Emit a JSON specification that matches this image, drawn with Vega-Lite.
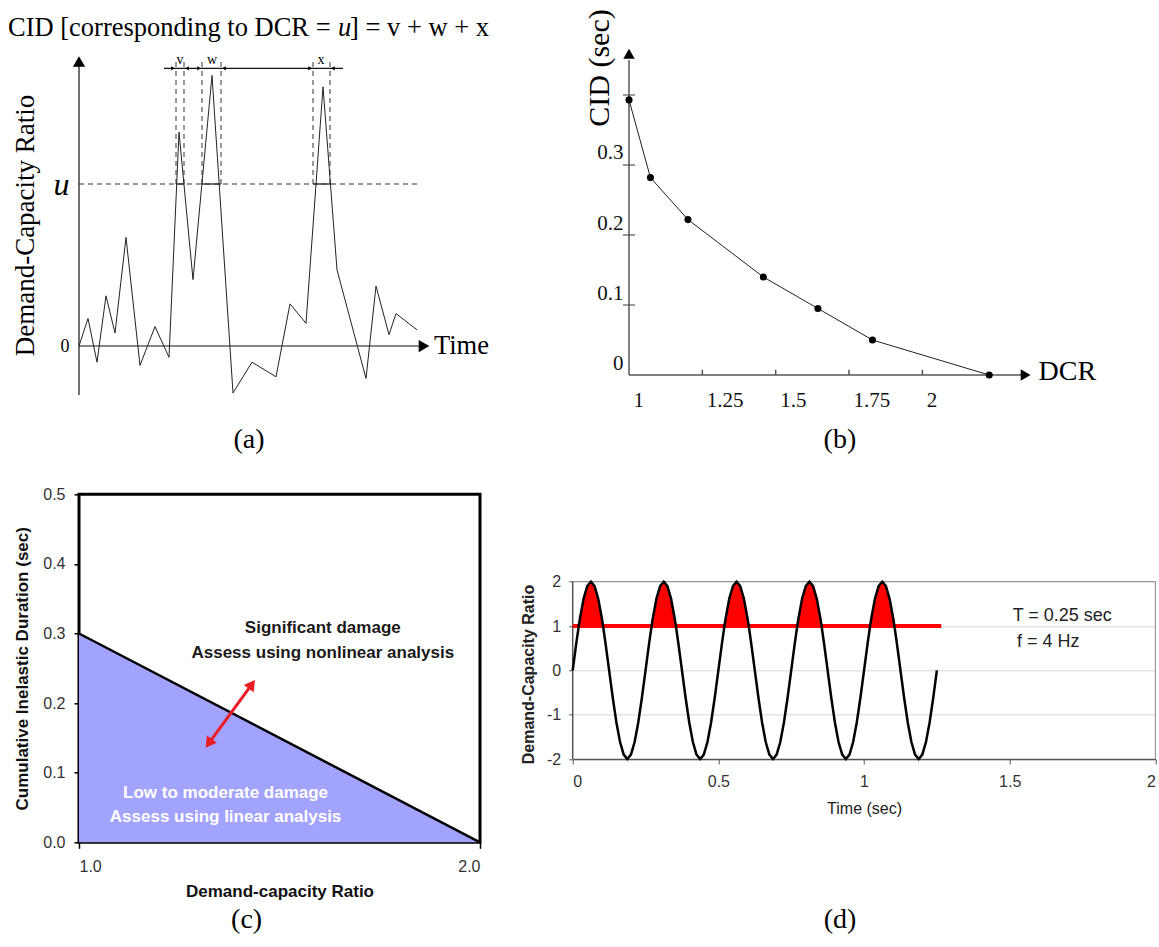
{
  "$schema": "https://vega.github.io/schema/vega-lite/v6.json",
  "padding": {"left": 8, "top": 0, "right": 0, "bottom": 0},
  "background": "white",
  "config": {"view": {"stroke": null}, "font": "Liberation Sans", "axis": {"labelFont": "Liberation Sans", "titleFont": "Liberation Sans"}},
  "bounds": "flush",
  "align": "each",
  "columns": 2,
  "spacing": {"row": 94.3, "column": 92.7},
  "datasets": {
    "sine": [
      {"x":0,"y":0},{"x":0.0125,"y":0.618},{"x":0.0208,"y":1},{"x":0.025,"y":1.176},{"x":0.0375,"y":1.618},{"x":0.05,"y":1.902},{"x":0.0625,"y":2},{"x":0.075,"y":1.902},{"x":0.0875,"y":1.618},{"x":0.1,"y":1.176},{"x":0.1042,"y":1},{"x":0.1125,"y":0.618},{"x":0.125,"y":0},{"x":0.1375,"y":-0.618},{"x":0.15,"y":-1.176},{"x":0.1625,"y":-1.618},{"x":0.175,"y":-1.902},{"x":0.1875,"y":-2},{"x":0.2,"y":-1.902},{"x":0.2125,"y":-1.618},{"x":0.225,"y":-1.176},{"x":0.2375,"y":-0.618},
      {"x":0.25,"y":0},{"x":0.2625,"y":0.618},{"x":0.2708,"y":1},{"x":0.275,"y":1.176},{"x":0.2875,"y":1.618},{"x":0.3,"y":1.902},{"x":0.3125,"y":2},{"x":0.325,"y":1.902},{"x":0.3375,"y":1.618},{"x":0.35,"y":1.176},{"x":0.3542,"y":1},{"x":0.3625,"y":0.618},{"x":0.375,"y":0},{"x":0.3875,"y":-0.618},{"x":0.4,"y":-1.176},{"x":0.4125,"y":-1.618},{"x":0.425,"y":-1.902},{"x":0.4375,"y":-2},{"x":0.45,"y":-1.902},{"x":0.4625,"y":-1.618},{"x":0.475,"y":-1.176},{"x":0.4875,"y":-0.618},
      {"x":0.5,"y":0},{"x":0.5125,"y":0.618},{"x":0.5208,"y":1},{"x":0.525,"y":1.176},{"x":0.5375,"y":1.618},{"x":0.55,"y":1.902},{"x":0.5625,"y":2},{"x":0.575,"y":1.902},{"x":0.5875,"y":1.618},{"x":0.6,"y":1.176},{"x":0.6042,"y":1},{"x":0.6125,"y":0.618},{"x":0.625,"y":0},{"x":0.6375,"y":-0.618},{"x":0.65,"y":-1.176},{"x":0.6625,"y":-1.618},{"x":0.675,"y":-1.902},{"x":0.6875,"y":-2},{"x":0.7,"y":-1.902},{"x":0.7125,"y":-1.618},{"x":0.725,"y":-1.176},{"x":0.7375,"y":-0.618},
      {"x":0.75,"y":0},{"x":0.7625,"y":0.618},{"x":0.7708,"y":1},{"x":0.775,"y":1.176},{"x":0.7875,"y":1.618},{"x":0.8,"y":1.902},{"x":0.8125,"y":2},{"x":0.825,"y":1.902},{"x":0.8375,"y":1.618},{"x":0.85,"y":1.176},{"x":0.8542,"y":1},{"x":0.8625,"y":0.618},{"x":0.875,"y":0},{"x":0.8875,"y":-0.618},{"x":0.9,"y":-1.176},{"x":0.9125,"y":-1.618},{"x":0.925,"y":-1.902},{"x":0.9375,"y":-2},{"x":0.95,"y":-1.902},{"x":0.9625,"y":-1.618},{"x":0.975,"y":-1.176},{"x":0.9875,"y":-0.618},
      {"x":1,"y":0},{"x":1.0125,"y":0.618},{"x":1.0208,"y":1},{"x":1.025,"y":1.176},{"x":1.0375,"y":1.618},{"x":1.05,"y":1.902},{"x":1.0625,"y":2},{"x":1.075,"y":1.902},{"x":1.0875,"y":1.618},{"x":1.1,"y":1.176},{"x":1.1042,"y":1},{"x":1.1125,"y":0.618},{"x":1.125,"y":0},{"x":1.1375,"y":-0.618},{"x":1.15,"y":-1.176},{"x":1.1625,"y":-1.618},{"x":1.175,"y":-1.902},{"x":1.1875,"y":-2},{"x":1.2,"y":-1.902},{"x":1.2125,"y":-1.618},{"x":1.225,"y":-1.176},{"x":1.2375,"y":-0.618},
      {"x":1.25,"y":0}
    ]
  },
  "concat": [
    {
      "width": 401,
      "height": 400,
      "encoding": {
        "x": {"field": "x", "type": "quantitative", "scale": {"domain": [0, 401], "nice": false, "zero": false}, "axis": null},
        "y": {"field": "y", "type": "quantitative", "scale": {"domain": [-0.3333, 2.1358], "nice": false, "zero": false},
          "axis": {"values": [0, 1], "domain": false, "ticks": false, "grid": false,
            "labelExpr": "datum.value == 1 ? 'u' : '0'",
            "labelFont": "Liberation Serif",
            "labelFontSize": {"condition": {"test": "datum.value == 1", "value": 32}, "value": 18},
            "labelFontStyle": {"condition": {"test": "datum.value == 1", "value": "italic"}, "value": "normal"},
            "labelColor": "#000", "labelPadding": 10,
            "title": "Demand-Capacity Ratio", "titleFont": "Liberation Serif", "titleFontSize": 27, "titleFontWeight": "normal", "titleColor": "#000",
            "titleX": -54, "titleY": 225, "titleBaseline": "middle"}}
      },
      "layer": [
        {
          "data": {"values": [
            {"x": 0, "x2": 0, "y": -0.302, "y2": 1.74},
            {"x": 0, "x2": 340, "y": 0, "y2": 0},
            {"x": 97, "x2": 105, "y": 1, "y2": 1},
            {"x": 123, "x2": 142, "y": 1, "y2": 1},
            {"x": 234, "x2": 251, "y": 1, "y2": 1},
            {"x": 85, "x2": 264, "y": 1.714, "y2": 1.714}
          ]},
          "mark": {"type": "rule", "color": "#111", "strokeWidth": 1.2},
          "encoding": {"x2": {"field": "x2"}, "y2": {"field": "y2"}}
        },
        {
          "data": {"values": [
            {"x": 0, "x2": 342, "y": 1, "y2": 1},
            {"x": 97, "x2": 97, "y": 1, "y2": 1.77},
            {"x": 105, "x2": 105, "y": 1, "y2": 1.77},
            {"x": 123, "x2": 123, "y": 1, "y2": 1.77},
            {"x": 142, "x2": 142, "y": 1, "y2": 1.77},
            {"x": 234, "x2": 234, "y": 1, "y2": 1.77},
            {"x": 251, "x2": 251, "y": 1, "y2": 1.77}
          ]},
          "mark": {"type": "rule", "color": "#333", "strokeWidth": 1, "strokeDash": [5, 4]},
          "encoding": {"x2": {"field": "x2"}, "y2": {"field": "y2"}}
        },
        {
          "data": {"values": [
            {"x": 0, "y": 0}, {"x": 9, "y": 0.17}, {"x": 18, "y": -0.10}, {"x": 27, "y": 0.31}, {"x": 36, "y": 0.08},
            {"x": 47, "y": 0.67}, {"x": 61, "y": -0.12}, {"x": 76, "y": 0.12}, {"x": 90, "y": -0.07}, {"x": 100, "y": 1.32},
            {"x": 114, "y": 0.41}, {"x": 133, "y": 1.67}, {"x": 154, "y": -0.29}, {"x": 173, "y": -0.10}, {"x": 197, "y": -0.19},
            {"x": 211, "y": 0.26}, {"x": 227, "y": 0.14}, {"x": 244, "y": 1.60}, {"x": 258, "y": 0.47}, {"x": 287, "y": -0.20},
            {"x": 297, "y": 0.37}, {"x": 310, "y": 0.07}, {"x": 317, "y": 0.20}, {"x": 338, "y": 0.10}
          ]},
          "mark": {"type": "line", "color": "#222", "strokeWidth": 1}
        },
        {
          "data": {"values": [{"x": 0, "y": 1.756}]},
          "mark": {"type": "point", "shape": "triangle-up", "filled": true, "size": 150, "color": "#000", "opacity": 1}
        },
        {
          "data": {"values": [{"x": 345, "y": 0}]},
          "mark": {"type": "point", "shape": "triangle-right", "filled": true, "size": 150, "color": "#000", "opacity": 1}
        },
        {
          "data": {"values": [{"x": 94, "y": 1.714}, {"x": 120, "y": 1.714}, {"x": 231, "y": 1.714}]},
          "mark": {"type": "point", "shape": "triangle-right", "filled": true, "size": 18, "color": "#000", "opacity": 1}
        },
        {
          "data": {"values": [{"x": 108, "y": 1.714}, {"x": 145, "y": 1.714}, {"x": 254, "y": 1.714}]},
          "mark": {"type": "point", "shape": "triangle-left", "filled": true, "size": 18, "color": "#000", "opacity": 1}
        },
        {
          "data": {"values": [{"x": 101, "y": 1.722, "label": "v"}, {"x": 133, "y": 1.722, "label": "w"}, {"x": 242, "y": 1.722, "label": "x"}]},
          "mark": {"type": "text", "font": "Liberation Serif", "fontSize": 14, "align": "center", "baseline": "bottom", "color": "#000"},
          "encoding": {"text": {"field": "label"}}
        },
        {
          "data": {"values": [
            {"x": -71, "y": 1.963, "label": "CID [corresponding to DCR = "},
            {"x": 271, "y": 1.963, "label": "] = v + w + x"},
            {"x": 355, "y": 0, "label": "Time"}
          ]},
          "mark": {"type": "text", "font": "Liberation Serif", "fontSize": 26.5, "align": "left", "baseline": "middle", "color": "#000"},
          "encoding": {"text": {"field": "label"}}
        },
        {
          "data": {"values": [{"x": 259, "y": 1.963, "label": "u"}]},
          "mark": {"type": "text", "font": "Liberation Serif", "fontSize": 26.5, "fontStyle": "italic", "align": "left", "baseline": "middle", "color": "#000"},
          "encoding": {"text": {"field": "label"}}
        },
        {
          "data": {"values": [{"x": 170, "y": -0.58, "label": "(a)"}]},
          "mark": {"type": "text", "font": "Liberation Serif", "fontSize": 28, "align": "center", "baseline": "middle", "color": "#000"},
          "encoding": {"text": {"field": "label"}}
        }
      ]
    },
    {
      "width": 582.7,
      "height": 400,
      "encoding": {
        "x": {"field": "x", "type": "quantitative", "scale": {"domain": [0.808, 2.7945], "nice": false, "zero": false},
          "axis": {"values": [1, 1.25, 1.5, 1.75, 2], "format": ".3~g", "domain": false, "ticks": false, "grid": false, "offset": -25,
            "labelAlign": "left", "labelBaseline": "middle", "labelOffset": 4, "labelPadding": 25,
            "labelFont": "Liberation Serif", "labelFontSize": 21, "labelColor": "#111", "title": null}},
        "y": {"field": "y", "type": "quantitative", "scale": {"domain": [-0.0357, 0.5357], "nice": false, "zero": false},
          "axis": {"values": [0, 0.1, 0.2, 0.3], "format": ".3~g", "domain": false, "ticks": false, "grid": false, "offset": -56.3,
            "labelOffset": -12, "labelPadding": 6, "labelFont": "Liberation Serif", "labelFontSize": 21, "labelColor": "#111",
            "title": "CID (sec)", "titleFont": "Liberation Serif", "titleFontSize": 30, "titleFontWeight": "normal", "titleColor": "#000",
            "titleX": -30, "titleY": 67.5, "titleBaseline": "middle"}}
      },
      "layer": [
        {
          "data": {"values": [
            {"x": 1, "x2": 1, "y": 0, "y2": 0.45},
            {"x": 1, "x2": 2.34, "y": 0, "y2": 0},
            {"x": 1.25, "x2": 1.25, "y": 0, "y2": 0.0075},
            {"x": 1.5, "x2": 1.5, "y": 0, "y2": 0.0075},
            {"x": 1.75, "x2": 1.75, "y": 0, "y2": 0.0075},
            {"x": 2, "x2": 2, "y": 0, "y2": 0.0075}
          ]},
          "mark": {"type": "rule", "color": "#555", "strokeWidth": 1.5},
          "encoding": {"x2": {"field": "x2"}, "y2": {"field": "y2"}}
        },
        {
          "data": {"values": [{"x": 1, "y": 0.1}, {"x": 1, "y": 0.2}, {"x": 1, "y": 0.3}, {"x": 1, "y": 0.4}]},
          "mark": {"type": "tick", "orient": "horizontal", "size": 12, "thickness": 1.2, "color": "#555", "opacity": 1}
        },
        {
          "data": {"values": [
            {"x": 1.0, "y": 0.393}, {"x": 1.073, "y": 0.282}, {"x": 1.201, "y": 0.222}, {"x": 1.458, "y": 0.140},
            {"x": 1.644, "y": 0.095}, {"x": 1.830, "y": 0.050}, {"x": 2.228, "y": 0}
          ]},
          "layer": [
            {"mark": {"type": "line", "color": "#222", "strokeWidth": 1}},
            {"mark": {"type": "point", "filled": true, "size": 50, "color": "#000", "opacity": 1}}
          ]
        },
        {
          "data": {"values": [{"x": 1, "y": 0.459}]},
          "mark": {"type": "point", "shape": "triangle-up", "filled": true, "size": 130, "color": "#000", "opacity": 1}
        },
        {
          "data": {"values": [{"x": 2.352, "y": 0}]},
          "mark": {"type": "point", "shape": "triangle-right", "filled": true, "size": 130, "color": "#000", "opacity": 1}
        },
        {
          "data": {"values": [{"x": 2.396, "y": 0.004, "label": "DCR"}]},
          "mark": {"type": "text", "font": "Liberation Serif", "fontSize": 28, "align": "left", "baseline": "middle", "color": "#000"},
          "encoding": {"text": {"field": "label"}}
        },
        {
          "data": {"values": [{"x": 1.719, "y": -0.0929, "label": "(b)"}]},
          "mark": {"type": "text", "font": "Liberation Serif", "fontSize": 28, "align": "center", "baseline": "middle", "color": "#000"},
          "encoding": {"text": {"field": "label"}}
        }
      ]
    },
    {
      "width": 401,
      "height": 348,
      "view": {"stroke": "#000", "strokeWidth": 3},
      "encoding": {
        "x": {"field": "x", "type": "quantitative", "scale": {"domain": [1, 2], "nice": false, "zero": false},
          "axis": {"values": [1, 2], "format": ".1f", "domain": false, "grid": false, "tickSize": 6, "tickColor": "#000", "tickWidth": 1.5,
            "labelPadding": 10, "labelFontSize": 16, "labelColor": "#333",
            "title": "Demand-capacity Ratio", "titleFontSize": 17, "titleFontWeight": "bold", "titleColor": "#111",
            "titleY": 49.5, "titleBaseline": "middle"}},
        "y": {"field": "y", "type": "quantitative", "scale": {"domain": [0, 0.5], "nice": false, "zero": false},
          "axis": {"values": [0, 0.1, 0.2, 0.3, 0.4, 0.5], "format": ".1f", "domain": false, "grid": false, "tickSize": 5, "tickColor": "#000", "tickWidth": 1.5,
            "labelPadding": 9, "labelFontSize": 16, "labelColor": "#333",
            "title": "Cumulative Inelastic Duration (sec)", "titleFontSize": 17, "titleFontWeight": "bold", "titleColor": "#111",
            "titleX": -57, "titleY": 174, "titleBaseline": "middle"}}
      },
      "layer": [
        {
          "data": {"values": [{"x": 1, "y": 0.3}, {"x": 2, "y": 0}]},
          "layer": [
            {"mark": {"type": "area", "color": "#a2a2ff", "opacity": 1}, "encoding": {"y2": {"datum": 0}}},
            {"mark": {"type": "line", "color": "#000", "strokeWidth": 2.5}}
          ]
        },
        {
          "data": {"values": [
            {"y": 0.02}, {"y": 0.04}, {"y": 0.06}, {"y": 0.08}, {"y": 0.1}, {"y": 0.12}, {"y": 0.14}, {"y": 0.16}, {"y": 0.18}, {"y": 0.2},
            {"y": 0.22}, {"y": 0.24}, {"y": 0.26}, {"y": 0.28}, {"y": 0.3}, {"y": 0.32}, {"y": 0.34}, {"y": 0.36}, {"y": 0.38}, {"y": 0.4},
            {"y": 0.42}, {"y": 0.44}, {"y": 0.46}, {"y": 0.48}
          ]},
          "mark": {"type": "rule", "color": "#000", "strokeWidth": 1},
          "encoding": {"x": {"datum": 1, "type": "quantitative"}, "x2": {"datum": 1.016}}
        },
        {
          "data": {"values": [{"x": 1.3235, "y": 0.142, "x2": 1.431, "y2": 0.227}]},
          "mark": {"type": "rule", "color": "#ec1c24", "strokeWidth": 3},
          "encoding": {"x2": {"field": "x2"}, "y2": {"field": "y2"}}
        },
        {
          "data": {"values": [{"x": 1.431, "y": 0.227}]},
          "mark": {"type": "point", "shape": "triangle-up", "angle": 36, "filled": true, "size": 150, "color": "#ec1c24", "opacity": 1}
        },
        {
          "data": {"values": [{"x": 1.3235, "y": 0.142}]},
          "mark": {"type": "point", "shape": "triangle-up", "angle": 216, "filled": true, "size": 150, "color": "#ec1c24", "opacity": 1}
        },
        {
          "data": {"values": [
            {"x": 1.608, "y": 0.308, "label": "Significant damage"},
            {"x": 1.608, "y": 0.2724, "label": "Assess using nonlinear analysis"}
          ]},
          "mark": {"type": "text", "fontSize": 17, "fontWeight": "bold", "align": "center", "baseline": "middle", "color": "#1a1a1a"},
          "encoding": {"text": {"field": "label"}}
        },
        {
          "data": {"values": [
            {"x": 1.3655, "y": 0.0713, "label": "Low to moderate damage"},
            {"x": 1.3655, "y": 0.0368, "label": "Assess using linear analysis"}
          ]},
          "mark": {"type": "text", "fontSize": 17, "fontWeight": "bold", "align": "center", "baseline": "middle", "color": "#ffffff"},
          "encoding": {"text": {"field": "label"}}
        },
        {
          "data": {"values": [{"x": 1.418, "y": -0.1116, "label": "(c)"}]},
          "mark": {"type": "text", "font": "Liberation Serif", "fontSize": 28, "align": "center", "baseline": "middle", "color": "#000"},
          "encoding": {"text": {"field": "label"}}
        }
      ]
    },
    {
      "width": 582.7,
      "height": 264.7,
      "encoding": {
        "x": {"field": "x", "type": "quantitative", "scale": {"domain": [0, 2], "nice": false, "zero": false},
          "axis": {"values": [0, 0.5, 1, 1.5, 2], "format": "~g", "domain": true, "domainColor": "#555", "domainWidth": 1.5, "grid": false,
            "tickSize": 5, "tickColor": "#555", "labelPadding": 9, "labelFontSize": 16, "labelColor": "#333",
            "title": "Time (sec)", "titleFontSize": 16, "titleFontWeight": "normal", "titleColor": "#222",
            "titleY": 49, "titleBaseline": "middle"}},
        "y": {"field": "y", "type": "quantitative", "scale": {"domain": [-2, 3.9716], "nice": false, "zero": false},
          "axis": {"values": [-2, -1, 0, 1, 2], "format": "~g", "labelExpr": "replace(datum.label, '\u2212', '-')",
            "domain": false,
            "grid": true, "gridColor": "#d8d8d8", "gridWidth": 1,
            "tickSize": 4, "tickColor": "#555", "labelPadding": 8, "labelFontSize": 16, "labelColor": "#333",
            "title": "Demand-Capacity Ratio", "titleFontSize": 16, "titleFontWeight": "bold", "titleColor": "#222",
            "titleX": -44.7, "titleY": 179.7, "titleBaseline": "middle"}}
      },
      "layer": [
        {
          "data": {"values": [
            {"x": 0, "x2": 2, "y": 2, "y2": 2},
            {"x": 2, "x2": 2, "y": -2, "y2": 2}
          ]},
          "mark": {"type": "rule", "color": "#888", "strokeWidth": 1},
          "encoding": {"x2": {"field": "x2"}, "y2": {"field": "y2"}}
        },
        {
          "data": {"values": [{"x": 0, "x2": 0, "y": -2, "y2": 2}]},
          "mark": {"type": "rule", "color": "#555", "strokeWidth": 1.5},
          "encoding": {"x2": {"field": "x2"}, "y2": {"field": "y2"}}
        },
        {
          "data": {"name": "sine"},
          "transform": [{"filter": "datum.y >= 1"}],
          "mark": {"type": "area", "color": "#ff0000", "opacity": 1},
          "encoding": {"y2": {"datum": 1}}
        },
        {
          "data": {"values": [{"x": 0, "x2": 1.265, "y": 1, "y2": 1}]},
          "mark": {"type": "rule", "color": "#ff0000", "strokeWidth": 4},
          "encoding": {"x2": {"field": "x2"}, "y2": {"field": "y2"}}
        },
        {
          "data": {"name": "sine"},
          "mark": {"type": "line", "color": "#000", "strokeWidth": 2.5}
        },
        {
          "data": {"values": [
            {"x": 1.51, "y": 1.226, "label": "T = 0.25 sec"},
            {"x": 1.525, "y": 0.64, "label": "f = 4 Hz"}
          ]},
          "mark": {"type": "text", "fontSize": 18, "align": "left", "baseline": "middle", "color": "#222"},
          "encoding": {"text": {"field": "label"}}
        },
        {
          "data": {"values": [{"x": 0.9175, "y": -5.632, "label": "(d)"}]},
          "mark": {"type": "text", "font": "Liberation Serif", "fontSize": 28, "align": "center", "baseline": "middle", "color": "#000"},
          "encoding": {"text": {"field": "label"}}
        }
      ]
    }
  ]
}
